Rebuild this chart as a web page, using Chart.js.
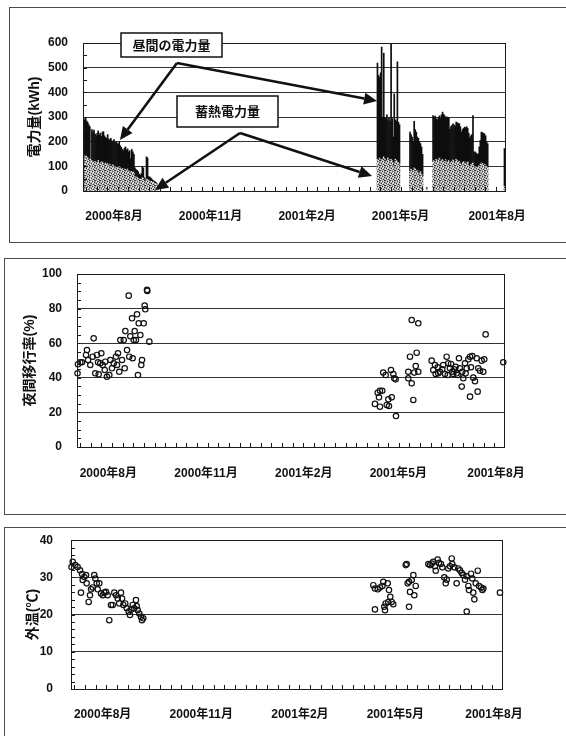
<!DOCTYPE html>
<html lang="ja">
<head>
<meta charset="utf-8">
<title>電力量・夜間移行率・外温</title>
<script src="https://cdn.jsdelivr.net/npm/chart.js@4.4.1/dist/chart.umd.min.js"></script>
<style>
  html, body { margin: 0; padding: 0; background: #fff; }
  body { width: 566px; height: 736px; position: relative; overflow: hidden; }
  .frame { position: absolute; border: 1.5px solid #4a4a4a; border-right: none; width: 640px; }
  canvas { position: absolute; left: 0; }
</style>
</head>
<body>
<div class="frame" style="left:9px;top:7px;height:234px"></div>
<div class="frame" style="left:4px;top:258px;height:255px"></div>
<div class="frame" style="left:4px;top:527px;height:260px"></div>
<canvas id="power-chart" width="566" height="250" style="top:0"></canvas>
<canvas id="shift-chart" width="566" height="265" style="top:250px"></canvas>
<canvas id="temp-chart" width="566" height="221" style="top:515px"></canvas>
<script>
// x values are days counted from 2000-07-01 (day 0)
const AXIS_MIN_DAY = 1.5;
const AXIS_MAX_DAY = 403.5;
const tickDays = [31, 123, 215, 304, 396];
const tickLabels = ["2000年8月", "2000年11月", "2001年2月", "2001年5月", "2001年8月"];

// --- 電力量 (kWh), daily bars, one value per day from each start day ---
const start2000 = 2;
const stored2000 = [140,150,145,140,135,130,130,20,125,120,118,122,115,118,125,110,115,118,120,
  112,108,115,110,112,105,110,102,100,108,98,100,95,98,92,100,95,90,92,85,90,88,85,90,80,82,75,80,78,75,
  60,55,58,52,50,48,50,55,52,45,42,50,48,45,42,40,40,38,35,32,30,26,22];
const daytime2000 = [155,140,155,145,145,140,132,10,125,120,130,110,110,117,120,118,121,104,120,
  130,117,103,105,118,107,98,113,105,92,112,98,107,98,98,100,90,88,78,80,85,92,83,82,80,83,57,90,82,75,
  35,33,27,28,20,17,22,45,43,10,8,90,87,15,16,15,10,7,7,8,6,4,2];

const startApr = 282;
const storedApr = [130,125,135,120,130,128,140,132,118,125,135,128,120,130,125,100,118,130,125,122,115,110];
const daytimeApr = [390,345,327,360,455,172,420,168,177,185,155,172,165,475,170,120,277,160,160,403,165,160];

const startMay = 313;
const storedMay = [80,90,75,85,95,90,80,85,70,75,80,70,60,0,0,0,10];
const daytimeMay = [160,140,145,115,189,160,160,135,145,125,113,110,90,0,0,0,5];

const startJun = 335;
const storedJun = [120,125,118,130,122,128,135,120,125,130,118,122,128,115,120,125,110,118,122,128,
  115,120,130,125,118,122,112,105,115,120,118,110,115,120,105,100,108,112,115,95,
  100,98,95,100,105,110,115,112,108,110,105,100,95];
const daytimeJun = [187,175,187,164,168,172,171,175,185,191,194,185,172,187,178,175,141,144,146,146,
  155,145,151,153,157,152,150,135,135,135,142,148,147,135,130,117,117,118,192,64,
  60,57,55,52,75,96,125,126,127,123,120,100,98];

const startLast = 403;
const storedLast = [20];
const daytimeLast = [153];

// --- 夜間移行率 (%) ---
const shiftDays2000 = [2.4,4.6,2,6.2,10.9,10,11.9,14,16.3,17.2,18.7,20.3,21.3,21.9,23.4,24.4,25.7,27.6,
  28.1,29.7,31.9,32.9,34.4,36.1,38.2,40.1,39.2,41.3,42.3,43.9,45.5,46.4,47,48.6,50.2,50.7,51.7,53.3,
  53.9,54.9,55.8,57,58,58.9,59.6,61.1,62,62.7,64.3,65.2,65.8,67.4,67.7,69.6];
const shiftRates2000 = [47.8,49,42.6,49,56,53.2,50.3,47.4,52.2,62.8,42.6,53.2,49,42,48.4,54.2,47.4,44.5,
  49.3,40.6,41.6,50.3,45.5,48.4,52.2,54.2,47.4,43.5,61.8,50.3,61.8,45.5,67,56,87.5,52.2,64,74.4,
  51.3,61.8,67,61.8,76.7,41.6,71.5,64.7,47.4,50.3,71.5,81.7,79.6,90.8,90.2,60.9];
const shiftDays2001 = [316.6,322.8,386.2,402.8,289.8,292.1,297.1,299.3,300.2,301.5,
  284.6,286.7,288.9,285.8,282,286.7,294.6,297.8,293.1,295.2,301.8,
  313.4,315,321.3,320.4,322.8,313.4,316.6,318.1,319,
  335.4,336.9,339.2,341.1,343.2,345.4,347.9,349.5,351,352.6,354.8,356.7,358.9,361.1,362,364.2,365.2,
  366.8,368.4,369.9,371.5,372.4,373.6,374.6,376.2,377.8,379.3,380.9,382.5,384,384.9,
  363.7,371.5,378.7,338.5,341.6,346.3,350.5,353.6,355.7,358,359.9,367.4];
const shiftRates2001 = [73.4,71.5,65.1,49,43,41.6,44.5,42.2,39.7,39.1,
  31.4,32.5,32.5,28.7,24.9,23.3,27.6,28.7,24.3,23.7,17.9,
  43.5,52.2,54.5,46.8,43.5,39.7,36.8,27.2,43,
  49.9,44.5,42.2,46.1,43.5,44.9,42.2,52.2,48.4,45.5,43.5,44.9,42.6,51.3,45.5,43.5,39.7,
  48.4,45.5,50.7,52.2,46.1,52.6,40.1,38,51.3,45.5,44.1,49.9,43.5,50.7,
  34.9,29.1,32,47.4,42.6,47.4,41.6,48,42.2,46.4,41.6,42.6];

// --- 外温 (℃) ---
const tempDays2000 = [2,3.1,5.5,7.7,9.9,11.8,12.4,13.9,10.8,15.5,16.1,18,19.2,20.2,21.7,23.2,24.2,25.5,
  26.4,27.9,29.5,31.1,32.6,34.1,35.7,37.2,38.8,40.4,41.9,43.5,45.1,46.5,48.1,49.1,50.3,52.1,53.5,
  55.3,56.5,57.7,59.1,60.5,62.1,62.8,63.7,65.2,66.8,67.7,68.9];
const tempValues2000 = [32.8,34.2,33.3,32.8,31.9,30.9,29.3,30.1,25.9,30.6,28.4,23.4,25.2,26.8,27.3,30.6,29.7,28.4,
  26.8,28.4,25.7,25.2,25.9,26.1,25.2,18.5,22.6,22.6,25.9,25.2,24.3,23,25.9,24.3,22.6,23,21.7,
  20.8,19.9,21.4,22.6,21.7,23.9,22.3,21.2,20.3,19.4,18.5,19];
const tempDays2001 = [283.5,285,287.6,289.7,291.9,292.8,296.9,298.1,299.3,300.6,295,293.7,294.4,285,297.4,302.1,
  313.7,314.6,315.5,316.8,317.7,319.3,320.8,321.7,323,316.8,
  334.8,336.3,337.9,339.4,341,341.7,343.5,344.7,346.6,347.8,349.7,351,351.9,353.4,355,356.6,357.1,
  359,361.2,362.7,364.3,365.9,367.4,369,370.6,372.1,372.7,374.6,375.8,376.7,377.7,379,380.9,
  382.1,384,385.2,386.1,370.6,401.6];
const tempValues2001 = [27.9,27,26.8,27.3,27.7,28.8,28.4,26.6,24.8,23.4,23,22.1,21.2,21.4,23.4,22.8,
  33.3,33.6,28.4,28.8,26.1,29.3,30.6,25.2,27.7,22.1,
  33.6,33.3,33.7,34.2,33,31.8,34.8,33.9,33.6,32.7,30,28.4,29.4,32.4,33,35.1,33.6,
  32.7,28.4,32.4,31.9,31.2,30.6,29.4,30.3,27.7,26.6,31,29.7,25.9,24.1,28.4,31.8,
  27.7,27.3,26.6,27,20.8,25.9];

// callout boxes and arrows of the top panel, in data units (day, kWh)
const calloutNotes = [
  { text: "昼間の電力量", box: [37.7, 640, 133.9, 543], from: [91, 519], targets: [[36.7, 207], [281.6, 365]] },
  { text: "蓄熱電力量", box: [91, 385, 187.3, 259], from: [151.1, 235], targets: [[70.1, 4], [276.8, 61]] },
];

const FONT = "'Liberation Sans', 'Noto Sans CJK JP', sans-serif";
const INK = "#111";
Chart.defaults.font.family = FONT;
Chart.defaults.color = INK;

const run = (start, ys) => ys.map((y, i) => ({ x: start + i, y }));
const zip = (xs, ys) => xs.map((x, i) => ({ x, y: ys[i] }));

// speckled grey fill, like the scanned 蓄熱 bars
function stipple() {
  const c = document.createElement("canvas");
  c.width = 5;
  c.height = 5;
  const g = c.getContext("2d");
  g.fillStyle = "#a8a8a8";
  g.fillRect(0, 0, 5, 5);
  g.fillStyle = "#333";
  [[0, 0], [2, 1], [4, 2], [1, 3], [3, 4], [4, 0]].forEach(([px, py]) => g.fillRect(px, py, 1, 1));
  g.fillStyle = "#f2f2f2";
  [[1, 1], [3, 2], [0, 4], [2, 3], [3, 0]].forEach(([px, py]) => g.fillRect(px, py, 1, 1));
  return g.createPattern(c, "repeat");
}

function timeAxis(height, pad) {
  return {
    type: "linear",
    min: AXIS_MIN_DAY,
    max: AXIS_MAX_DAY,
    offset: false,
    grid: { display: false, drawTicks: false },
    border: { display: true, color: "#1a1a1a" },
    afterBuildTicks: (s) => { s.ticks = tickDays.map((v) => ({ value: v })); },
    afterFit: (s) => { s.height = height; },
    ticks: {
      autoSkip: false,
      maxRotation: 0,
      padding: pad,
      font: { size: 12, weight: "bold" },
      callback: (v) => tickLabels[tickDays.indexOf(v)],
    },
  };
}

function valueAxis(max, step, width, title, titlePad, labelPad) {
  return {
    min: 0,
    max: max,
    afterFit: (s) => { s.width = width; },
    ticks: { stepSize: step, padding: labelPad, font: { size: 12, weight: "bold" } },
    grid: { color: "#333", lineWidth: 1, drawTicks: false },
    border: { display: true, color: "#1a1a1a" },
    title: {
      display: true,
      text: title,
      font: { size: 14, weight: "bold" },
      padding: { top: titlePad, bottom: 0 },
    },
  };
}

const minorTicks = {
  id: "minorTicks",
  afterDraw(chart, args, opts) {
    const { ctx, chartArea: a, scales } = chart;
    const x = scales.x, y = scales.y;
    ctx.save();
    ctx.strokeStyle = "#1a1a1a";
    ctx.lineWidth = 1;
    ctx.strokeRect(Math.round(a.left) + 0.5, Math.round(a.top) + 0.5, Math.round(a.width), Math.round(a.height));
    ctx.beginPath();
    for (let v = y.min; v <= y.max; v += opts.yStep) {
      const py = Math.round(y.getPixelForValue(v)) + 0.5;
      ctx.moveTo(a.left, py);
      ctx.lineTo(a.left + 4, py);
    }
    for (let d = x.min + 3; d <= x.max; d += opts.xStep) {
      const px = Math.round(x.getPixelForValue(d)) + 0.5;
      ctx.moveTo(px, a.bottom);
      ctx.lineTo(px, a.bottom - 4);
    }
    ctx.stroke();
    ctx.restore();
  },
};

function arrow(ctx, x1, y1, x2, y2) {
  const ang = Math.atan2(y2 - y1, x2 - x1);
  const len = 13, half = 6;
  const bx = x2 - len * Math.cos(ang), by = y2 - len * Math.sin(ang);
  ctx.lineWidth = 2.6;
  ctx.beginPath();
  ctx.moveTo(x1, y1);
  ctx.lineTo(bx, by);
  ctx.stroke();
  ctx.beginPath();
  ctx.moveTo(x2, y2);
  ctx.lineTo(bx + half * Math.sin(ang), by - half * Math.cos(ang));
  ctx.lineTo(bx - half * Math.sin(ang), by + half * Math.cos(ang));
  ctx.closePath();
  ctx.fill();
}

const callouts = {
  id: "callouts",
  afterDraw(chart) {
    const { ctx, scales: { x, y } } = chart;
    const px = (d) => x.getPixelForValue(d);
    const py = (v) => y.getPixelForValue(v);
    ctx.save();
    ctx.strokeStyle = INK;
    ctx.fillStyle = INK;
    calloutNotes.forEach((n) => {
      n.targets.forEach(([d, v]) => arrow(ctx, px(n.from[0]), py(n.from[1]), px(d), py(v)));
    });
    calloutNotes.forEach((n) => {
      const [d0, v0, d1, v1] = n.box;
      const l = Math.round(px(d0)), t = Math.round(py(v0)), r = Math.round(px(d1)), b = Math.round(py(v1));
      ctx.fillStyle = "#fff";
      ctx.fillRect(l, t, r - l, b - t);
      ctx.lineWidth = 1.5;
      ctx.strokeRect(l, t, r - l, b - t);
      ctx.fillStyle = INK;
      ctx.font = "bold 13px " + FONT;
      ctx.textAlign = "center";
      ctx.textBaseline = "middle";
      ctx.fillText(n.text, (l + r) / 2, (t + b) / 2 + 1);
    });
    ctx.restore();
  },
};

const storedPoints = [
  ...run(start2000, stored2000), ...run(startApr, storedApr), ...run(startMay, storedMay),
  ...run(startJun, storedJun), ...run(startLast, storedLast),
];
const daytimePoints = [
  ...run(start2000, daytime2000), ...run(startApr, daytimeApr), ...run(startMay, daytimeMay),
  ...run(startJun, daytimeJun), ...run(startLast, daytimeLast),
];

const quiet = { legend: { display: false }, tooltip: { enabled: false } };

new Chart(document.getElementById("power-chart"), {
  type: "bar",
  data: {
    datasets: [
      { label: "蓄熱電力量", data: storedPoints, backgroundColor: stipple(), stack: "kwh",
        barPercentage: 1.6, categoryPercentage: 1, borderWidth: 0 },
      { label: "昼間の電力量", data: daytimePoints, backgroundColor: "#0e0e0e", stack: "kwh",
        barPercentage: 1.6, categoryPercentage: 1, borderWidth: 0 },
    ],
  },
  options: {
    responsive: false,
    animation: false,
    layout: { padding: { top: 43, right: 61, left: 0, bottom: 0 } },
    plugins: { ...quiet, minorTicks: { yStep: 50, xStep: 10 } },
    scales: {
      x: { ...timeAxis(59, 18), stacked: true },
      y: { ...valueAxis(600, 100, 83, "電力量(kWh)", 26.6, 15), stacked: true },
    },
  },
  plugins: [minorTicks, callouts],
});

const ring = {
  pointStyle: "circle",
  pointRadius: 2.7,
  pointBorderWidth: 1.2,
  pointBorderColor: "#111",
  pointBackgroundColor: "rgba(255,255,255,0)",
  clip: false,
};

new Chart(document.getElementById("shift-chart"), {
  type: "scatter",
  data: {
    datasets: [
      { label: "夜間移行率 2000", data: zip(shiftDays2000, shiftRates2000), ...ring },
      { label: "夜間移行率 2001", data: zip(shiftDays2001, shiftRates2001), ...ring },
    ],
  },
  options: {
    responsive: false,
    animation: false,
    layout: { padding: { top: 24, right: 62, left: 0, bottom: 0 } },
    plugins: { ...quiet, minorTicks: { yStep: 5, xStep: 10 } },
    scales: {
      x: timeAxis(68, 19),
      y: valueAxis(100, 20, 77, "夜間移行率(%)", 21.6, 15),
    },
  },
  plugins: [minorTicks],
});

new Chart(document.getElementById("temp-chart"), {
  type: "scatter",
  data: {
    datasets: [
      { label: "外温 2000", data: zip(tempDays2000, tempValues2000), ...ring },
      { label: "外温 2001", data: zip(tempDays2001, tempValues2001), ...ring },
    ],
  },
  options: {
    responsive: false,
    animation: false,
    layout: { padding: { top: 25, right: 64, left: 0, bottom: 0 } },
    plugins: { ...quiet, minorTicks: { yStep: 2, xStep: 10 } },
    scales: {
      x: timeAxis(47, 18),
      y: valueAxis(40, 10, 71, "外温(℃)", 24.6, 18),
    },
  },
  plugins: [minorTicks],
});
</script>
</body>
</html>
